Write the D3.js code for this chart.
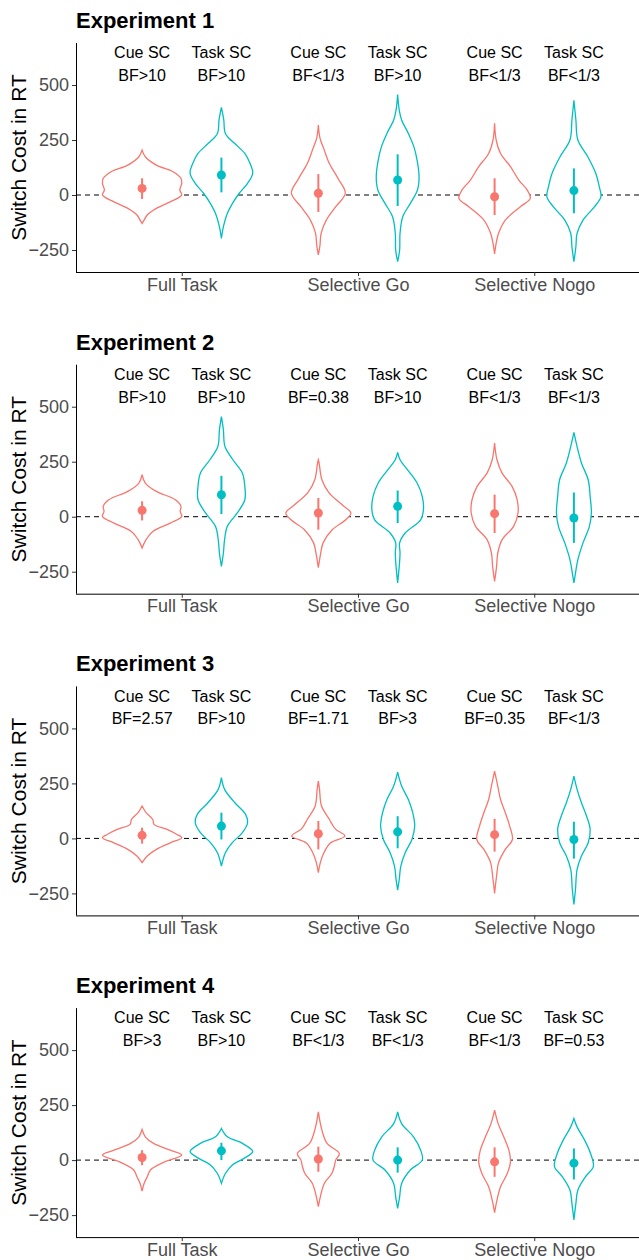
<!DOCTYPE html>
<html>
<head>
<meta charset="utf-8">
<script src="https://cdn.jsdelivr.net/npm/d3@7"></script>
<style>
  body { margin: 0; background: #fff; }
  text { font-family: "Liberation Sans", Arial, sans-serif; }
</style>
</head>
<body>
<div id="chart"></div>
<script>
// Data
var experiments = ["Experiment 1", "Experiment 2", "Experiment 3", "Experiment 4"];
var conditions = ["Full Task", "Selective Go", "Selective Nogo"];
var measures = ["Cue SC", "Task SC"];
var colors = ["#F8766D", "#00BFC4"];
var yTicks = [-250, 0, 250, 500];

// BF label per violin, order: FT cue, FT task, Go cue, Go task, Nogo cue, Nogo task
var bfLabels = [
  ["BF>10", "BF>10", "BF<1/3", "BF>10", "BF<1/3", "BF<1/3"],
  ["BF>10", "BF>10", "BF=0.38", "BF>10", "BF<1/3", "BF<1/3"],
  ["BF=2.57", "BF>10", "BF=1.71", "BF>3", "BF=0.35", "BF<1/3"],
  ["BF>3", "BF>10", "BF<1/3", "BF<1/3", "BF<1/3", "BF=0.53"]
];

// mean switch cost and error bar ends
var means = [
  [30, 91, 8, 68, -8, 20],
  [29, 100, 17, 47, 14, -6],
  [14, 56, 21, 30, 17, -5],
  [12, 42, 5, 0, -8, -14]
];
var errLow = [
  [-18, 12, -77, -50, -91, -83],
  [-17, 12, -59, -29, -74, -119],
  [-24, -5, -50, -45, -60, -92],
  [-23, 0, -53, -57, -76, -88]
];
var errHigh = [
  [76, 170, 95, 185, 76, 121],
  [70, 186, 85, 119, 100, 110],
  [49, 117, 79, 101, 89, 76],
  [45, 79, 61, 58, 58, 53]
];

// violin outlines: [switch cost, relative half width]
var violins1 = [
  [[204,0],[174,0.08],[136,0.36],[106,0.78],[76,0.98],[53,1],[23,0.95],[0,1],[-30,0.72],[-61,0.36],[-91,0.13],[-114,0.05],[-129,0]],
  [[398,0],[341,0.06],[280,0.1],[235,0.33],[189,0.59],[144,0.72],[99,0.79],[53,0.66],[8,0.45],[-38,0.28],[-83,0.15],[-144,0.05],[-197,0]],
  [[318,0],[260,0.04],[204,0.15],[150,0.26],[129,0.32],[68,0.52],[8,0.68],[-53,0.44],[-114,0.2],[-174,0.07],[-230,0.04],[-272,0]],
  [[457,0],[386,0.04],[341,0.1],[280,0.27],[219,0.41],[159,0.49],[83,0.54],[23,0.5],[-38,0.32],[-98,0.13],[-174,0.06],[-250,0.05],[-303,0]],
  [[326,0],[250,0.04],[189,0.15],[129,0.4],[68,0.61],[23,0.82],[-15,0.9],[-53,0.65],[-114,0.27],[-174,0.1],[-219,0.04],[-268,0]],
  [[431,0],[341,0.05],[250,0.1],[174,0.35],[99,0.55],[38,0.64],[-8,0.68],[-53,0.52],[-114,0.23],[-174,0.08],[-235,0.05],[-303,0]]
];
var violins2 = [
  [[191,0],[153,0.08],[115,0.36],[77,0.84],[47,0.98],[24,0.96],[1,1],[-29,0.71],[-67,0.27],[-104,0.1],[-142,0]],
  [[455,0],[395,0.05],[319,0.09],[259,0.29],[198,0.53],[138,0.59],[77,0.59],[17,0.4],[-44,0.15],[-104,0.08],[-165,0.05],[-226,0]],
  [[259,0],[244,0.02],[168,0.09],[108,0.27],[54,0.6],[17,0.82],[-14,0.69],[-59,0.35],[-119,0.12],[-165,0.06],[-232,0]],
  [[292,0],[259,0.06],[213,0.25],[153,0.49],[92,0.62],[32,0.65],[-14,0.58],[-74,0.19],[-119,0.05],[-165,0.06],[-226,0.04],[-301,0]],
  [[335,0],[259,0.06],[198,0.19],[138,0.44],[77,0.57],[17,0.59],[-44,0.48],[-104,0.19],[-165,0.08],[-226,0.05],[-294,0]],
  [[383,0],[319,0.08],[244,0.19],[168,0.36],[92,0.41],[17,0.44],[-44,0.39],[-119,0.23],[-195,0.1],[-256,0.04],[-301,0]]
];
var violins3 = [
  [[147,0],[117,0.1],[86,0.27],[64,0.3],[41,0.63],[18,0.88],[3,1],[-20,0.71],[-50,0.36],[-80,0.13],[-110,0]],
  [[276,0],[223,0.08],[162,0.34],[109,0.61],[71,0.66],[26,0.53],[-20,0.27],[-65,0.1],[-126,0]],
  [[260,0],[223,0.03],[147,0.08],[86,0.28],[60,0.36],[41,0.44],[11,0.67],[-20,0.31],[-65,0.14],[-110,0.05],[-156,0]],
  [[301,0],[238,0.1],[177,0.27],[117,0.38],[56,0.43],[-5,0.36],[-65,0.19],[-126,0.08],[-186,0.04],[-235,0]],
  [[306,0],[238,0.08],[177,0.15],[117,0.27],[56,0.38],[-5,0.45],[-50,0.27],[-110,0.1],[-171,0.05],[-250,0]],
  [[283,0],[223,0.08],[162,0.19],[101,0.32],[41,0.41],[-20,0.36],[-80,0.19],[-141,0.08],[-232,0.04],[-300,0]]
];
var violins4 = [
  [[139,0],[106,0.08],[76,0.29],[45,0.71],[23,1],[-8,0.57],[-45,0.21],[-76,0.13],[-106,0.05],[-141,0]],
  [[144,0],[106,0.15],[76,0.53],[39,0.79],[8,0.57],[-23,0.27],[-61,0.1],[-106,0]],
  [[219,0],[136,0.09],[76,0.22],[30,0.53],[1,0.44],[-30,0.4],[-61,0.34],[-106,0.15],[-167,0.05],[-212,0]],
  [[219,0],[166,0.1],[106,0.4],[45,0.58],[0,0.62],[-45,0.32],[-106,0.1],[-167,0.05],[-219,0]],
  [[227,0],[166,0.09],[106,0.23],[45,0.36],[-8,0.4],[-61,0.32],[-121,0.15],[-182,0.06],[-239,0]],
  [[189,0],[151,0.08],[91,0.27],[30,0.42],[-30,0.49],[-76,0.29],[-136,0.1],[-197,0.05],[-272,0]]
];
var violins = [violins1, violins2, violins3, violins4];

var width = 639, height = 1260;
var panelStep = 321.7;

var svg = d3.select("#chart").append("svg")
  .attr("width", width)
  .attr("height", height);

var x = d3.scalePoint()
  .domain(conditions)
  .range([76, 640])
  .padding(0.6);
var step = x.step();
var dodge = d3.scaleBand()
  .domain(measures)
  .range([-0.45 * step, 0.45 * step]);
var halfW = d3.scaleLinear().domain([0, 1]).range([0, 0.225 * step]);

experiments.forEach(function(title, k) {
  var top = 43 + k * panelStep;
  var bottom = 272 + k * panelStep;
  var y = d3.scaleLinear().domain([-350, 691]).range([bottom, top]);
  var g = svg.append("g");

  // title
  g.append("text")
    .attr("x", 76)
    .attr("y", top - 15)
    .style("font-size", "22px")
    .style("font-weight", "bold")
    .text(title);

  // zero line
  g.append("line")
    .attr("x1", 76).attr("x2", 640)
    .attr("y1", y(0)).attr("y2", y(0))
    .attr("stroke", "#000")
    .attr("stroke-width", 1)
    .attr("stroke-dasharray", "5,4");

  var items = [];
  conditions.forEach(function(c, ci) {
    measures.forEach(function(m, mi) {
      var idx = ci * 2 + mi;
      items.push({
        cx: x(c) + dodge(m) + dodge.bandwidth() / 2,
        color: colors[mi],
        measure: m,
        bf: bfLabels[k][idx],
        mean: means[k][idx],
        lo: errLow[k][idx],
        hi: errHigh[k][idx],
        shape: violins[k][idx]
      });
    });
  });

  items.forEach(function(d) {
    var area = d3.area()
      .y(function(p) { return y(p[0]); })
      .x0(function(p) { return d.cx - halfW(p[1]); })
      .x1(function(p) { return d.cx + halfW(p[1]); })
      .curve(d3.curveCatmullRom.alpha(0.5));
    g.append("path")
      .attr("d", area(d.shape))
      .attr("fill", "#fff")
      .attr("stroke", d.color)
      .attr("stroke-width", 1.3);

    g.append("line")
      .attr("x1", d.cx).attr("x2", d.cx)
      .attr("y1", y(d.lo)).attr("y2", y(d.hi))
      .attr("stroke", d.color)
      .attr("stroke-width", 2);
    g.append("circle")
      .attr("cx", d.cx)
      .attr("cy", y(d.mean))
      .attr("r", 4.5)
      .attr("fill", d.color);

    g.append("text")
      .attr("x", d.cx)
      .attr("y", y(622))
      .attr("text-anchor", "middle")
      .style("font-size", "16px")
      .text(d.measure);
    g.append("text")
      .attr("x", d.cx)
      .attr("y", y(518))
      .attr("text-anchor", "middle")
      .style("font-size", "16px")
      .text(d.bf);
  });

  // axes
  var yAxis = g.append("g")
    .attr("transform", "translate(76,0)")
    .call(d3.axisLeft(y).tickValues(yTicks).tickSize(4).tickPadding(3));
  yAxis.select(".domain").attr("d", "M0.5," + top + "V" + bottom).attr("stroke", "#000");
  yAxis.selectAll(".tick line").attr("stroke", "#333");
  yAxis.selectAll(".tick text")
    .attr("fill", "#4D4D4D")
    .style("font-size", "18px")
    .style("font-family", "Liberation Sans, Arial, sans-serif");

  var xAxis = g.append("g")
    .attr("transform", "translate(0," + bottom + ")")
    .call(d3.axisBottom(x).tickSize(4).tickPadding(2));
  xAxis.select(".domain").attr("d", "M76,0.5H639").attr("stroke", "#000");
  xAxis.selectAll(".tick line").attr("stroke", "#333");
  xAxis.selectAll(".tick text")
    .attr("fill", "#4D4D4D")
    .style("font-size", "18px")
    .style("font-family", "Liberation Sans, Arial, sans-serif");

  // y title
  g.append("text")
    .attr("transform", "translate(26," + ((top + bottom) / 2) + ")rotate(-90)")
    .attr("text-anchor", "middle")
    .style("font-size", "21px")
    .text("Switch Cost in RT");
});
</script>
</body>
</html>
